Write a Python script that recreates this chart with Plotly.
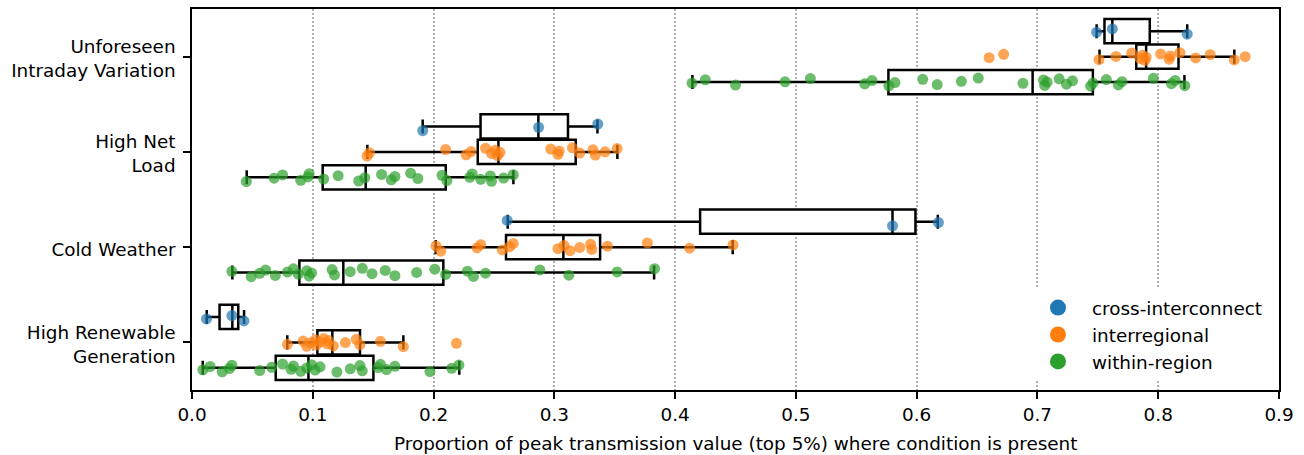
import plotly.graph_objects as go

# ---------------- data ----------------
categories = ["Unforeseen<br>Intraday Variation", "High Net<br>Load",
              "Cold Weather", "High Renewable<br>Generation"]
hues = ["cross-interconnect", "interregional", "within-region"]
colors = ["#1f77b4", "#ff7f0e", "#2ca02c"]

# individual points, per condition and connection type
uiv_cross = [0.749, 0.762, 0.824]
uiv_inter = [0.660, 0.672, 0.751, 0.765, 0.778, 0.785, 0.787, 0.789, 0.790, 0.802,
             0.809, 0.810, 0.818, 0.831, 0.843, 0.863, 0.872]
uiv_within = [0.414, 0.425, 0.450, 0.491, 0.512, 0.557, 0.563, 0.577, 0.582, 0.605,
              0.617, 0.637, 0.651, 0.688, 0.705, 0.706, 0.708, 0.718, 0.724, 0.729,
              0.744, 0.746, 0.757, 0.767, 0.770, 0.796, 0.811, 0.814, 0.822]

hnl_cross = [0.191, 0.287, 0.336]
hnl_inter = [0.145, 0.147, 0.210, 0.227, 0.231, 0.243, 0.248, 0.251, 0.253, 0.255,
             0.297, 0.303, 0.304, 0.315, 0.321, 0.332, 0.334, 0.342, 0.352]
hnl_within = [0.045, 0.068, 0.075, 0.090, 0.096, 0.097, 0.109, 0.121, 0.138, 0.143,
              0.157, 0.165, 0.168, 0.181, 0.187, 0.207, 0.211, 0.230, 0.232, 0.239,
              0.247, 0.248, 0.258, 0.266]

cw_cross = [0.261, 0.580, 0.618]
cw_inter = [0.202, 0.206, 0.236, 0.239, 0.257, 0.263, 0.266, 0.303, 0.308, 0.313,
            0.321, 0.330, 0.331, 0.344, 0.377, 0.412, 0.448]
cw_within = [0.033, 0.049, 0.056, 0.061, 0.069, 0.079, 0.084, 0.088, 0.095, 0.097,
             0.099, 0.116, 0.118, 0.131, 0.141, 0.149, 0.160, 0.168, 0.186, 0.201,
             0.210, 0.228, 0.233, 0.243, 0.288, 0.312, 0.352, 0.383]

hrg_cross = [0.012, 0.033, 0.043]
hrg_inter = [0.079, 0.092, 0.095, 0.098, 0.102, 0.103, 0.106, 0.109, 0.112, 0.113,
             0.117, 0.127, 0.136, 0.139, 0.156, 0.175, 0.219]
hrg_within = [0.009, 0.015, 0.025, 0.031, 0.033, 0.056, 0.066, 0.075, 0.082, 0.084,
              0.090, 0.095, 0.099, 0.102, 0.106, 0.120, 0.131, 0.139, 0.141, 0.154,
              0.156, 0.161, 0.168, 0.197, 0.215, 0.221]

# box statistics per connection type (one value per condition, top to bottom)
cross_q1 = [0.7555, 0.2389, 0.4207, 0.0228]
cross_med = [0.762, 0.2868, 0.580, 0.0334]
cross_q3 = [0.793, 0.3113, 0.599, 0.0383]
cross_lo = [0.749, 0.191, 0.2614, 0.0122]
cross_hi = [0.824, 0.3357, 0.6175, 0.0431]

inter_q1 = [0.7818, 0.2366, 0.2600, 0.1038]
inter_med = [0.790, 0.2537, 0.3075, 0.1162]
inter_q3 = [0.8168, 0.3177, 0.3379, 0.1391]
inter_lo = [0.7514, 0.1452, 0.2018, 0.0789]
inter_hi = [0.863, 0.3522, 0.4477, 0.175]

within_q1 = [0.5766, 0.1082, 0.0889, 0.0693]
within_med = [0.696, 0.1438, 0.1253, 0.0964]
within_q3 = [0.7459, 0.2101, 0.2081, 0.1502]
within_lo = [0.4143, 0.0453, 0.0334, 0.0089]
within_hi = [0.8217, 0.2661, 0.3826, 0.2213]

xticks = [0.0, 0.1, 0.2, 0.3, 0.4, 0.5, 0.6, 0.7, 0.8, 0.9]
xlabel = "Proportion of peak transmission value (top 5%) where condition is present"

# ---------------- figure ----------------
points = [
    [uiv_cross, hnl_cross, cw_cross, hrg_cross],
    [uiv_inter, hnl_inter, cw_inter, hrg_inter],
    [uiv_within, hnl_within, cw_within, hrg_within],
]
stats = [
    (cross_q1, cross_med, cross_q3, cross_lo, cross_hi),
    (inter_q1, inter_med, inter_q3, inter_lo, inter_hi),
    (within_q1, within_med, within_q3, within_lo, within_hi),
]
offsets = [-0.267, 0.0, 0.267]
JIT = 0.09
FONT = "DejaVu Sans"
FS = 18.4

fig = go.Figure()

for h in range(3):
    q1, med, q3, lo, hi = stats[h]
    fig.add_trace(go.Box(
        y=[c + offsets[h] for c in range(len(categories))],
        q1=q1, median=med, q3=q3, lowerfence=lo, upperfence=hi,
        orientation="h", width=0.255, whiskerwidth=0.58,
        fillcolor="white", line=dict(color="black", width=2.5),
        boxpoints=False, showlegend=False, hoverinfo="skip",
    ))

for h in range(3):
    xs, ys = [], []
    for c in range(len(categories)):
        vals = points[h][c]
        for i, v in enumerate(vals):
            j = (((i + 1) * 0.6180339887 + c * 0.37) % 1.0) - 0.5
            xs.append(v)
            ys.append(c + offsets[h] + j * JIT)
    fig.add_trace(go.Scatter(
        x=xs, y=ys, mode="markers",
        marker=dict(color=colors[h], size=11, opacity=0.7, line=dict(width=0)),
        showlegend=False, hoverinfo="x",
    ))

for h in range(3):
    fig.add_trace(go.Scatter(
        x=[None], y=[None], mode="markers", name=hues[h],
        marker=dict(color=colors[h], size=17),
    ))

fig.update_layout(
    width=1304, height=455,
    margin=dict(l=192, r=25, t=9, b=65, autoexpand=False),
    paper_bgcolor="white", plot_bgcolor="white",
    font=dict(family=FONT, size=FS, color="black"),
    boxmode="overlay",
    legend=dict(x=0.7654, xanchor="left", y=0.026, yanchor="bottom",
                bgcolor="white", borderwidth=0, font=dict(size=FS),
                tracegroupgap=0, itemwidth=58),
    annotations=[dict(
        text=xlabel, xref="paper", yref="paper", x=0.5, y=0,
        xanchor="center", yanchor="middle", yshift=-53, showarrow=False,
        font=dict(size=FS),
    )],
)
fig.update_xaxes(
    range=[0, 0.9], tickvals=xticks, tickformat=".1f",
    showgrid=True, gridcolor="#b0b0b0", griddash="1.5px,2.5px", gridwidth=1.5,
    showline=True, mirror=True, linecolor="black", linewidth=1.5,
    ticks="outside", ticklen=7, tickwidth=1.5, tickcolor="black",
    zeroline=False, automargin=False,
)
fig.update_yaxes(
    range=[3.5, -0.5], tickvals=list(range(len(categories))), ticktext=categories,
    showgrid=False, zeroline=False, automargin=False,
    showline=True, mirror=True, linecolor="black", linewidth=1.5,
    ticks="outside", ticklen=7, tickwidth=1.5, tickcolor="black",
    ticklabelstandoff=4, ticklabelshift=-2,
)

fig.write_html("out.html")
